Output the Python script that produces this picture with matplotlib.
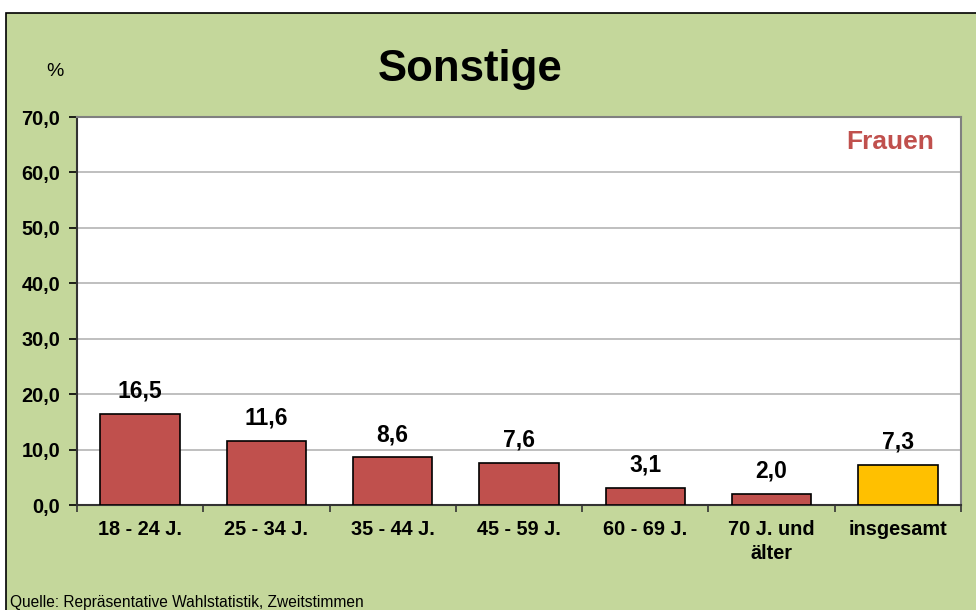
import matplotlib
matplotlib.use("Agg")
import matplotlib.pyplot as plt
import matplotlib.patches as patches
import numpy as np

plt.rcParams['font.family'] = ['Liberation Sans', 'DejaVu Sans']

categories = ['18 - 24 J.', '25 - 34 J.', '35 - 44 J.', '45 - 59 J.',
              '60 - 69 J.', '70 J. und\nälter', 'insgesamt']
values = [16.5, 11.6, 8.6, 7.6, 3.1, 2.0, 7.3]
value_labels = ['16,5', '11,6', '8,6', '7,6', '3,1', '2,0', '7,3']
yticks = [0, 10, 20, 30, 40, 50, 60, 70]
ytick_labels = ['0,0', '10,0', '20,0', '30,0', '40,0', '50,0', '60,0', '70,0']

green = '#c4d79b'
red = '#c0504d'
yellow = '#ffc000'

fig = plt.figure(figsize=(9.76, 6.10), dpi=100)
fig.patch.set_facecolor('white')

# green chart background with black frame (top-left corner offset)
bg = patches.Rectangle((6 / 976, -0.01), 1.0, (610 - 13) / 610 + 0.01,
                       transform=fig.transFigure, facecolor=green,
                       edgecolor='black', linewidth=1.2, zorder=-10)
fig.patches.append(bg)

ax = fig.add_axes([77 / 976, 105 / 610, (961 - 77) / 976, (505 - 117) / 610])
ax.set_facecolor('white')

x = np.arange(len(categories))
colors = [red] * (len(values) - 1) + [yellow]
ax.bar(x, values, width=0.63, color=colors, edgecolor='black', linewidth=1.2, zorder=3)

for xi, v, lab in zip(x, values, value_labels):
    ax.annotate(lab, (xi, v), xytext=(0, 8), textcoords='offset points',
                ha='center', va='bottom', fontsize=16.5, fontweight='bold')

ax.set_xlim(-0.5, len(categories) - 0.5)
ax.set_ylim(0, 70)
ax.set_yticks(yticks)
ax.set_yticklabels(ytick_labels, fontsize=14.3, fontweight='bold')
ax.yaxis.grid(True, color='#bfbfbf', linewidth=1.4, zorder=0)
ax.set_axisbelow(True)

# category ticks at boundaries, labels centered under bars
ax.set_xticks(np.arange(len(categories) + 1) - 0.5)
ax.set_xticklabels([])
ax.set_xticks(x, minor=True)
ax.set_xticklabels(categories, minor=True, fontsize=14.3, fontweight='bold',
                   linespacing=1.3)
ax.tick_params(axis='x', which='minor', length=0, pad=11)
ax.tick_params(axis='x', which='major', length=5, width=1.2, direction='out',
               color='#333333')
ax.tick_params(axis='y', length=6, width=1.2, direction='out', pad=6)

for s in ['left', 'bottom']:
    ax.spines[s].set_color('#333333')
    ax.spines[s].set_linewidth(1.5)
for s in ['top', 'right']:
    ax.spines[s].set_color('#808080')
    ax.spines[s].set_linewidth(1.5)

ax.text(0.9695, 0.935, 'Frauen', transform=ax.transAxes, ha='right', va='center',
        fontsize=19, fontweight='bold', color=red)

fig.text(470 / 976, (610 - 70) / 610, 'Sonstige', ha='center', va='center',
         fontsize=31.5, fontweight='bold')
fig.text(55 / 976, (610 - 71) / 610, '%', ha='center', va='center', fontsize=14)
fig.text(10 / 976, (610 - 603) / 610, 'Quelle: Repräsentative Wahlstatistik, Zweitstimmen',
         ha='left', va='center', fontsize=11.2)

fig.savefig('out.png', dpi=100, facecolor=fig.get_facecolor())
